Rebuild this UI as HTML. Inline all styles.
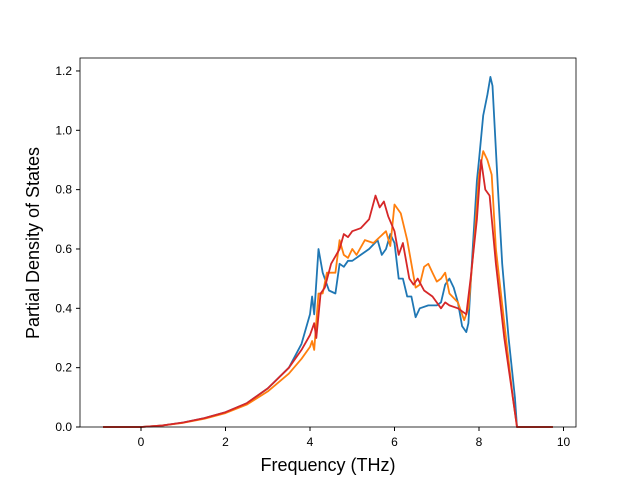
<!DOCTYPE html>
<html><head><meta charset="utf-8"><style>
body{margin:0;background:#fff;}
svg text{font-family:"Liberation Sans","DejaVu Sans",sans-serif;}
</style></head><body>
<svg id="chart" width="640" height="480" xmlns="http://www.w3.org/2000/svg">
<rect width="640" height="480" fill="#fff"/>
<g id="plot"></g>
<rect x="80" y="58" width="496" height="369" fill="none" stroke="#000" stroke-width="0.8"/>
<g id="ticks"></g>
<text x="328" y="471" font-size="18" text-anchor="middle">Frequency (THz)</text>
<text transform="translate(39,243) rotate(-90)" font-size="18" text-anchor="middle">Partial Density of States</text>
</svg>
<script>
const xTicks=[0,2,4,6,8,10];
const yTicks=[0.0,0.2,0.4,0.6,0.8,1.0,1.2];
const blueX=[-0.9,0,0.5,1,1.5,2,2.5,3,3.5,3.8,4.0,4.05,4.1,4.2,4.3,4.45,4.6,4.7,4.8,4.9,5.0,5.2,5.4,5.6,5.7,5.8,5.9,6.0,6.1,6.2,6.3,6.4,6.5,6.6,6.8,7.0,7.1,7.2,7.3,7.4,7.5,7.6,7.7,7.75,7.85,7.95,8.0,8.1,8.2,8.27,8.32,8.45,8.55,8.7,8.85,8.9,9.75];
const blueY=[0,0,0.005,0.015,0.03,0.05,0.08,0.13,0.2,0.28,0.38,0.44,0.38,0.6,0.52,0.46,0.45,0.55,0.54,0.56,0.56,0.58,0.6,0.63,0.58,0.6,0.65,0.62,0.5,0.5,0.44,0.44,0.37,0.4,0.41,0.41,0.42,0.48,0.5,0.47,0.42,0.34,0.32,0.35,0.6,0.83,0.9,1.05,1.12,1.18,1.15,0.8,0.55,0.3,0.1,0,0];
const orangeX=[-0.9,0,0.5,1,1.5,2,2.5,3,3.5,3.8,4.0,4.05,4.1,4.2,4.3,4.4,4.6,4.7,4.8,4.9,5.0,5.1,5.3,5.5,5.8,5.9,6.0,6.15,6.3,6.4,6.5,6.6,6.7,6.8,6.9,7.0,7.1,7.2,7.3,7.5,7.65,7.75,7.9,8.0,8.1,8.2,8.3,8.4,8.6,8.8,8.9,9.75];
const orangeY=[0,0,0.005,0.014,0.028,0.047,0.075,0.12,0.18,0.23,0.27,0.29,0.26,0.45,0.45,0.52,0.52,0.63,0.58,0.57,0.6,0.58,0.63,0.62,0.66,0.61,0.75,0.72,0.63,0.55,0.47,0.48,0.54,0.55,0.52,0.49,0.5,0.52,0.45,0.42,0.36,0.4,0.65,0.85,0.93,0.9,0.85,0.6,0.35,0.1,0,0];
const redX=[-0.9,0,0.5,1,1.5,2,2.5,3,3.5,3.8,4.0,4.1,4.15,4.25,4.35,4.5,4.7,4.8,4.9,5.0,5.2,5.4,5.55,5.65,5.75,5.85,6.0,6.1,6.2,6.35,6.45,6.55,6.7,6.9,7.1,7.2,7.3,7.5,7.7,7.8,7.95,8.05,8.15,8.25,8.4,8.6,8.8,8.9,9.75];
const redY=[0,0,0.005,0.015,0.03,0.05,0.08,0.13,0.2,0.26,0.31,0.35,0.3,0.45,0.47,0.55,0.6,0.65,0.64,0.66,0.67,0.7,0.78,0.74,0.76,0.71,0.66,0.58,0.62,0.5,0.48,0.5,0.46,0.44,0.4,0.42,0.41,0.4,0.38,0.5,0.7,0.9,0.8,0.78,0.55,0.3,0.1,0,0];
const X=v=>141+v*42.25;
const Y=v=>427-v*296.7;
const NS='http://www.w3.org/2000/svg';
const plot=document.getElementById('plot');
function line(xs,ys,color,name){
  const p=document.createElementNS(NS,'polyline');
  p.setAttribute('points',xs.map((x,i)=>X(x).toFixed(1)+','+Y(ys[i]).toFixed(1)).join(' '));
  p.setAttribute('fill','none');p.setAttribute('stroke',color);p.setAttribute('stroke-width','1.8');
  p.setAttribute('stroke-linejoin','round');
  
  
  plot.appendChild(p);
}
line(blueX,blueY,'#1f77b4','series-blue');
line(orangeX,orangeY,'#ff7f0e','series-orange');
line(redX,redY,'#d62728','series-red');
const tk=document.getElementById('ticks');
xTicks.forEach(v=>{
  const l=document.createElementNS(NS,'line');
  l.setAttribute('x1',X(v));l.setAttribute('x2',X(v));l.setAttribute('y1',427);l.setAttribute('y2',431);l.setAttribute('stroke','#000');
  
  
  tk.appendChild(l);
  const t=document.createElementNS(NS,'text');
  t.setAttribute('x',X(v));t.setAttribute('y',446);t.setAttribute('font-size','12');t.setAttribute('text-anchor','middle');
  t.textContent=v;
  
  
  tk.appendChild(t);
});
yTicks.forEach(v=>{
  const l=document.createElementNS(NS,'line');
  l.setAttribute('x1',76);l.setAttribute('x2',80);l.setAttribute('y1',Y(v));l.setAttribute('y2',Y(v));l.setAttribute('stroke','#000');
  
  
  tk.appendChild(l);
  const t=document.createElementNS(NS,'text');
  t.setAttribute('x',72);t.setAttribute('y',Y(v)+4);t.setAttribute('font-size','12');t.setAttribute('text-anchor','end');
  t.textContent=v.toFixed(1);
  
  
  tk.appendChild(t);
});
</script>
</body></html>
